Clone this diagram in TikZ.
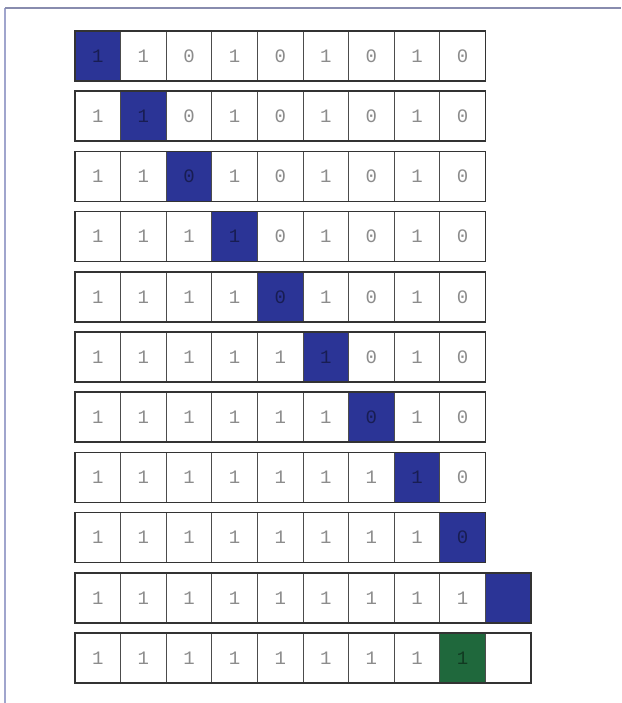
\documentclass[tikz,border=0pt]{standalone}
\usepackage{fontspec}
\setmonofont{Liberation Mono}
\usetikzlibrary{positioning}
\definecolor{cellblue}{RGB}{43,52,150}
\definecolor{cellgreen}{RGB}{31,104,60}
\definecolor{framecol}{RGB}{160,165,205}
\tikzset{
  cell/.style={rectangle, draw=black!70, line width=1pt, fill=white,
    minimum width=45.6pt, minimum height=50pt, inner sep=0pt, outer sep=0pt,
    font=\ttfamily\fontsize{19}{19}\selectfont, text=black!45},
  bluecell/.style={cell, fill=cellblue, text=cellblue!55!black},
  greencell/.style={cell, fill=cellgreen, text=cellgreen!55!black},
  rowframe/.style={draw=black!80, line width=1.6pt},
}

\begin{document}
\begin{tikzpicture}[x=1pt, y=1pt]
  \useasboundingbox (0,0) rectangle (621,703);

  % ---- cadre ----
  \coordinate (fa) at (5,0);
  \coordinate (fb) at (5,695);
  \coordinate (fc) at (621,695);
  \draw[framecol, line width=1.2pt] (fa) -- (fb);
  \draw[framecol!85!black, line width=1.8pt] (fb) -- (fc);

  % ---- lignes : valeurs / case marquee / style / nb de cases ----
  \foreach \r/\vals/\hl/\hs/\n in {
      1/{1,1,0,1,0,1,0,1,0}/1/bluecell/9,
      2/{1,1,0,1,0,1,0,1,0}/2/bluecell/9,
      3/{1,1,0,1,0,1,0,1,0}/3/bluecell/9,
      4/{1,1,1,1,0,1,0,1,0}/4/bluecell/9,
      5/{1,1,1,1,0,1,0,1,0}/5/bluecell/9,
      6/{1,1,1,1,1,1,0,1,0}/6/bluecell/9,
      7/{1,1,1,1,1,1,0,1,0}/7/bluecell/9,
      8/{1,1,1,1,1,1,1,1,0}/8/bluecell/9,
      9/{1,1,1,1,1,1,1,1,0}/9/bluecell/9,
      10/{1,1,1,1,1,1,1,1,1,{}}/10/bluecell/10,
      11/{1,1,1,1,1,1,1,1,1,{}}/9/greencell/10}{
    \foreach \v [count=\c] in \vals {
      \ifnum\c=\hl \def\st{\hs}\else\def\st{cell}\fi
      \node[\st] (c\r-\c) at ({97.8+(\c-1)*45.6},{647-(\r-1)*60.2}) {\v};
    }
    \draw[rowframe] (c\r-1.south west) rectangle (c\r-\n.north east);
  }
\end{tikzpicture}
\end{document}
